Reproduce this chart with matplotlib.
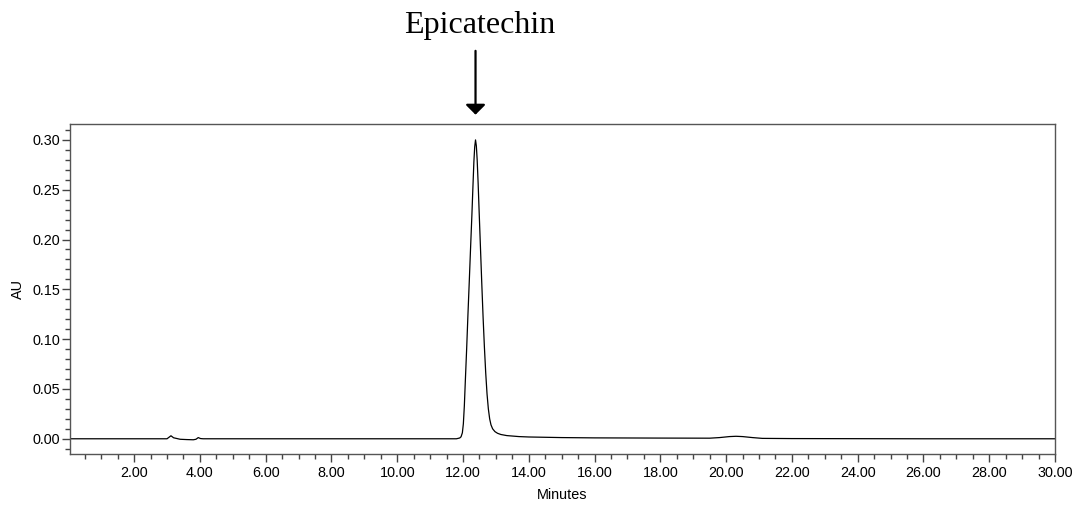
import numpy as np
import matplotlib.pyplot as plt
from matplotlib.ticker import MultipleLocator, FormatStrFormatter

# Chromatogram trace (minutes, AU)
minutes = [0.05, 3.00, 3.08, 3.12, 3.20, 3.40, 3.60, 3.80, 3.88, 3.95, 4.02, 4.10,
           11.80, 11.90, 11.94, 11.98, 12.01, 12.04, 12.07, 12.11, 12.15, 12.19,
           12.23, 12.27, 12.30, 12.33, 12.355, 12.38, 12.405, 12.43, 12.46, 12.49,
           12.53, 12.57, 12.61, 12.65, 12.69, 12.73, 12.77, 12.81, 12.85, 12.90,
           12.97, 13.05, 13.15, 13.33, 13.70, 14.00, 15.00, 16.00, 18.00, 19.50,
           19.80, 20.10, 20.30, 20.50, 20.80, 21.10, 22.00, 26.00, 30.00]
au = [0.0000, 0.0000, 0.0020, 0.0030, 0.0010, -0.0005, -0.0008, -0.0010, -0.0005, 0.0012, 0.0002, 0.0000,
      0.0000, 0.0008, 0.0020, 0.0060, 0.0150, 0.0330, 0.0580, 0.0900, 0.1250, 0.1580,
      0.1920, 0.2250, 0.2520, 0.2780, 0.2930, 0.3000, 0.2940, 0.2800, 0.2560, 0.2280,
      0.1920, 0.1560, 0.1220, 0.0920, 0.0660, 0.0450, 0.0300, 0.0200, 0.0140, 0.0100,
      0.0072, 0.0055, 0.0043, 0.0032, 0.0022, 0.0018, 0.0012, 0.0009, 0.0007, 0.0006,
      0.0012, 0.0022, 0.0025, 0.0022, 0.0012, 0.0004, 0.0002, 0.0000, 0.0000]

peak_label = "Epicatechin"
peak_time = 12.38

x_major = np.arange(2, 31, 2)
y_major = [0.00, 0.05, 0.10, 0.15, 0.20, 0.25, 0.30]

plt.rcParams['font.family'] = ['Liberation Sans', 'DejaVu Sans']

fig = plt.figure(figsize=(10.8, 5.07), dpi=100)
ax = fig.add_axes([0.0648, 0.1045, 0.9121, 0.651])

ax.plot(minutes, au, color='black', lw=0.9)

ax.set_xlim(0.05, 30.0)
ax.set_ylim(-0.0153, 0.316)

ax.set_xticks(x_major)
ax.xaxis.set_minor_locator(MultipleLocator(0.5))
ax.xaxis.set_major_formatter(FormatStrFormatter('%.2f'))
ax.set_yticks(y_major)
ax.yaxis.set_minor_locator(MultipleLocator(0.01))
ax.yaxis.set_major_formatter(FormatStrFormatter('%.2f'))

ax.tick_params(which='major', length=6, width=1.0, color='#444444', labelsize=10.4, pad=1)
ax.tick_params(axis='x', which='major', pad=2.5)
ax.tick_params(which='minor', length=3.5, width=1.0, color='#444444')
for s in ax.spines.values():
    s.set_color('#555555')
    s.set_linewidth(1.0)

ax.set_xlabel('Minutes', fontsize=10.4, labelpad=6)
ax.set_ylabel('AU', fontsize=10.4, labelpad=5)

# peak label and arrow
fig.text(0.4444, 1 - 33 / 507, peak_label, ha='center', va='baseline',
         fontsize=23, family='Liberation Serif')
ax.annotate('', xy=(peak_time, 0.3253), xytext=(peak_time, 0.3894),
            xycoords='data', textcoords='data', annotation_clip=False,
            arrowprops=dict(arrowstyle='-|>,head_width=0.6,head_length=0.6',
                            mutation_scale=10, color='black', lw=1.6,
                            shrinkA=0, shrinkB=0))

fig.savefig('out.png', dpi=100)
